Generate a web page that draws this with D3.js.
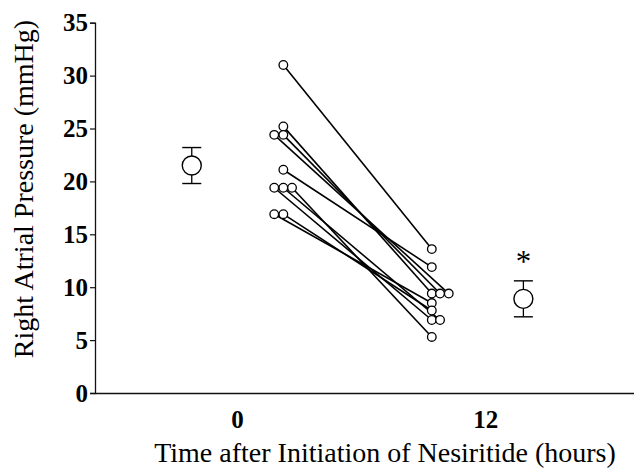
<!DOCTYPE html>
<html>
<head>
<meta charset="utf-8" />
<title>Right Atrial Pressure</title>
<style>
html, body { margin:0; padding:0; background-color:#FFFFFF; }
svg { display:block; }
</style>
<script src="https://cdn.jsdelivr.net/npm/d3@7"></script>
</head>
<body>
<script>
// individual patients: time (h, jittered as drawn), pressure before / after
var beforeTime  = [2.24, 2.24, 1.80, 2.24, 2.24, 1.80, 2.24, 2.66, 1.80, 2.24];
var beforeValue = [31.0, 25.2, 24.4, 24.4, 21.1, 19.4, 19.4, 19.4, 16.9, 16.9];
var afterTime   = [9.42, 9.42, 10.24, 9.82, 9.42, 9.42, 9.82, 9.42, 9.42, 9.42];
var afterValue  = [13.6, 9.4, 9.4, 9.4, 11.9, 6.9, 6.9, 5.3, 8.5, 7.8];

// group means with error bars
var meanTime  = [-2.19, 13.85];
var meanValue = [21.5, 8.9];
var meanErr   = [1.7, 1.7];

var yTicks = [0, 5, 10, 15, 20, 25, 30, 35];
var xTicks = [0, 12];

var W = 634, H = 469;
var svg = d3.select('body').append('svg')
  .attr('width', W)
  .attr('height', H);

var x = d3.scaleLinear().domain([-6.87, 19.2]).range([95, 634]);
var y = d3.scaleLinear().domain([0, 35]).range([393, 22.7]);

var serif = "'Liberation Serif', 'Times New Roman', serif";

// y axis
var yAxis = svg.append('g')
  .attr('transform', 'translate(95,0)')
  .call(d3.axisLeft(y).tickValues(yTicks).tickSize(5).tickPadding(2));
yAxis.select('.domain').attr('stroke', '#111').attr('stroke-width', 1.3);
yAxis.selectAll('.tick line').attr('stroke', '#111').attr('stroke-width', 1.2);
yAxis.selectAll('.tick text')
  .attr('fill', '#000')
  .style('font-family', serif)
  .style('font-weight', 'bold')
  .style('font-size', '25px');

// x axis
var xAxis = svg.append('g')
  .attr('transform', 'translate(0,393)')
  .call(d3.axisBottom(x).tickValues(xTicks).tickSize(0).tickPadding(17).tickSizeOuter(0));
xAxis.select('.domain').attr('stroke', '#111').attr('stroke-width', 1.3);
xAxis.selectAll('.tick text')
  .attr('fill', '#000')
  .style('font-family', serif)
  .style('font-weight', 'bold')
  .style('font-size', '25px');

// axis titles
svg.append('text')
  .attr('x', 385).attr('y', 462)
  .attr('text-anchor', 'middle')
  .style('font-family', serif)
  .style('font-size', '28px')
  .text('Time after Initiation of Nesiritide (hours)');

svg.append('text')
  .attr('transform', 'translate(33,189) rotate(-90)')
  .attr('text-anchor', 'middle')
  .style('font-family', serif)
  .style('font-size', '28px')
  .text('Right Atrial Pressure (mmHg)');

// paired lines
var idx = d3.range(beforeValue.length);
svg.append('g').selectAll('line')
  .data(idx).enter().append('line')
  .attr('x1', function(i){ return x(beforeTime[i]); })
  .attr('y1', function(i){ return y(beforeValue[i]); })
  .attr('x2', function(i){ return x(afterTime[i]); })
  .attr('y2', function(i){ return y(afterValue[i]); })
  .attr('stroke', '#000')
  .attr('stroke-width', 1.6);

// small circles
var pts = svg.append('g');
pts.selectAll('circle.b')
  .data(idx).enter().append('circle')
  .attr('class', 'b')
  .attr('cx', function(i){ return x(beforeTime[i]); })
  .attr('cy', function(i){ return y(beforeValue[i]); })
  .attr('r', 4.3)
  .attr('fill', '#fff').attr('stroke', '#000').attr('stroke-width', 1.3);
pts.selectAll('circle.a')
  .data(idx).enter().append('circle')
  .attr('class', 'a')
  .attr('cx', function(i){ return x(afterTime[i]); })
  .attr('cy', function(i){ return y(afterValue[i]); })
  .attr('r', 4.3)
  .attr('fill', '#fff').attr('stroke', '#000').attr('stroke-width', 1.3);

// means with error bars
var m = svg.append('g').selectAll('g')
  .data(d3.range(meanValue.length)).enter().append('g');
m.append('line')
  .attr('x1', function(i){ return x(meanTime[i]); })
  .attr('x2', function(i){ return x(meanTime[i]); })
  .attr('y1', function(i){ return y(meanValue[i] + meanErr[i]); })
  .attr('y2', function(i){ return y(meanValue[i] - meanErr[i]); })
  .attr('stroke', '#000').attr('stroke-width', 1.3);
[1, -1].forEach(function(s){
  m.append('line')
    .attr('x1', function(i){ return x(meanTime[i]) - 9.5; })
    .attr('x2', function(i){ return x(meanTime[i]) + 9.5; })
    .attr('y1', function(i){ return y(meanValue[i] + s * meanErr[i]); })
    .attr('y2', function(i){ return y(meanValue[i] + s * meanErr[i]); })
    .attr('stroke', '#000').attr('stroke-width', 1.4);
});
m.append('circle')
  .attr('cx', function(i){ return x(meanTime[i]); })
  .attr('cy', function(i){ return y(meanValue[i]); })
  .attr('r', 9.5)
  .attr('fill', '#fff').attr('stroke', '#000').attr('stroke-width', 1.4);

// significance mark
svg.append('text')
  .attr('x', x(meanTime[1])).attr('y', y(meanValue[1] + meanErr[1]) - 9)
  .attr('text-anchor', 'middle')
  .style('font-family', serif)
  .style('font-size', '31px')
  .text('*');
</script>
</body>
</html>
